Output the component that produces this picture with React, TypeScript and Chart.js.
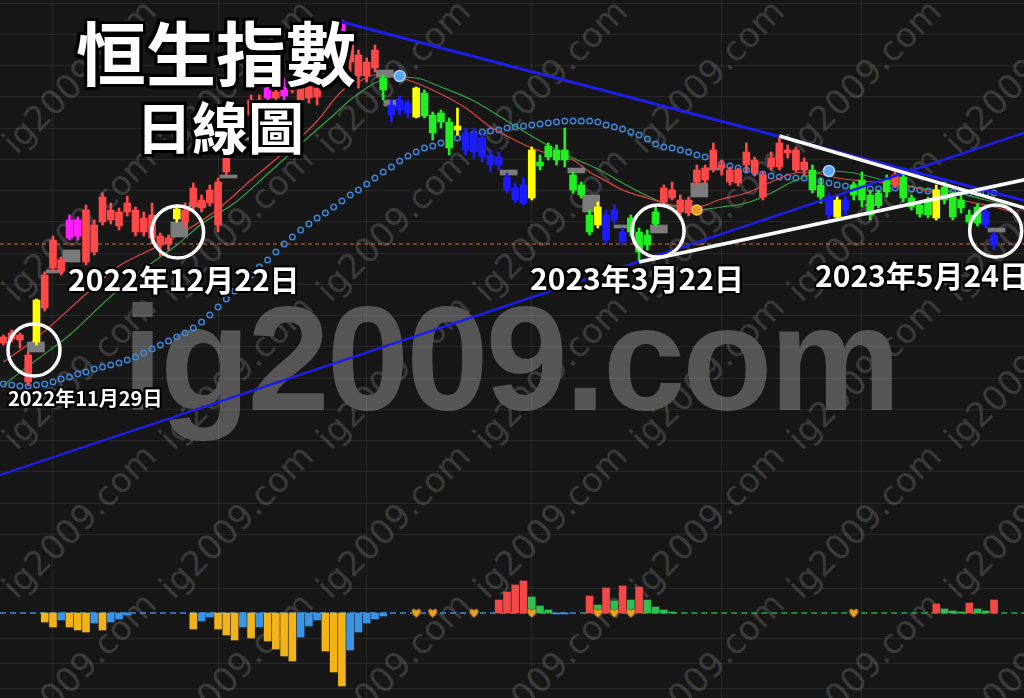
import React, { useEffect, useRef } from "react";
import { Chart, registerables } from "chart.js";

Chart.register(...registerables);

// Day index 0 = 2022-11-23 ... 120 = 2023-05-24 (HSI daily)
const candleOpen = [
  17562, 17626, 17610, 16938, 17578, 18122, 18762, 18714, 19242, 19274,
  18858, 19018, 19498, 19530, 19434, 19658, 19338, 19338, 19242, 19130,
  19146, 19546, 19498, 19770, 19722, 19802, 19450, 20298, 20810, 20922,
  21210, 21290, 21482, 21482, 21514, 21610, 21450, 21482, 21498, 21770,
  22170, 22538, 22058, 21834, 21834, 21962, 21802, 21370, 21450, 21402,
  21178, 21562, 21210, 21242, 21098, 20970, 20922, 20922, 20842, 20570,
  20538, 20218, 20042, 20090, 19882, 20458, 20714, 20650, 20650, 20250,
  20090, 19610, 19450, 19610, 19690, 19338, 19562, 19338, 19290, 19658,
  19818, 19882, 19658, 19642, 20138, 20170, 20362, 20362, 20138, 20122,
  20410, 20282, 19898, 20378, 20378, 20602, 20330, 20330, 20330, 20090,
  19898, 19578, 19850, 20090, 20170, 19930, 19962, 20170, 20090, 20218,
  19882, 19770, 19850, 19562, 20058, 19898, 19850, 19610, 19738, 19658,
  19290,
];
const candleHigh = [
  17690, 17770, 17722, 17418, 18266, 18698, 19274, 18938, 19610, 19578,
  19770, 19530, 19962, 19802, 19722, 19914, 19738, 19658, 19802, 19322,
  19290, 19770, 19802, 20122, 19930, 20090, 20202, 20874, 21162, 21322,
  21530, 21530, 21690, 21642, 21802, 21850, 21690, 21770, 21706, 22122,
  22650, 22730, 22410, 22250, 22122, 22330, 21850, 21450, 21514, 21450,
  21658, 21610, 21258, 21290, 21162, 21322, 21002, 21002, 20938, 20650,
  20618, 20282, 20122, 20202, 20698, 20570, 20762, 20730, 21002, 20298,
  20138, 19690, 19818, 19690, 19770, 19402, 19610, 19402, 19370, 19770,
  20090, 20138, 19930, 19898, 20410, 20410, 20762, 20490, 20378, 20362,
  20762, 20538, 20298, 20618, 20842, 20730, 20698, 20522, 20410, 20202,
  19962, 19930, 19914, 20138, 20298, 20010, 20010, 20250, 20298, 20298,
  19930, 19818, 19898, 20090, 20138, 19978, 19930, 19690, 19786, 19722,
  19338,
];
const candleLow = [
  17530, 17578, 17482, 16874, 17530, 18074, 18698, 18650, 19210, 19210,
  18810, 18970, 19450, 19466, 19370, 19594, 19274, 19274, 19146, 18954,
  19050, 19498, 19402, 19658, 19658, 19754, 19338, 20234, 20730, 20858,
  21162, 21242, 21450, 21450, 21450, 21562, 21402, 21402, 21370, 21690,
  22090, 22410, 21690, 21642, 21738, 21898, 21450, 21098, 21210, 21162,
  21162, 21162, 20810, 21002, 20570, 20890, 20570, 20522, 20458, 20298,
  20330, 19962, 19802, 19770, 19850, 20330, 20490, 20410, 20378, 19962,
  19882, 19290, 19402, 19146, 19482, 19130, 19274, 18858, 19050, 19434,
  19754, 19850, 19610, 19594, 20090, 20122, 20298, 20250, 20090, 20074,
  20298, 20234, 19850, 20330, 20330, 20522, 20298, 20250, 19962, 19802,
  19530, 19530, 19610, 19850, 19738, 19530, 19722, 19898, 20042, 19818,
  19690, 19578, 19562, 19530, 19786, 19530, 19642, 19450, 19434, 19402,
  19050,
];
const candleClose = [
  17658, 17722, 17690, 17370, 18250, 18650, 19210, 18890, 19530, 19530,
  19690, 19450, 19898, 19690, 19658, 19802, 19690, 19562, 19610, 19274,
  19242, 19706, 19690, 20042, 19850, 20010, 20138, 20794, 21050, 21242,
  21450, 21450, 21642, 21578, 21738, 21770, 21642, 21690, 21658, 22042,
  22570, 22666, 22330, 22170, 22058, 22250, 21610, 21210, 21290, 21242,
  21642, 21194, 20922, 21098, 20682, 21034, 20650, 20618, 20538, 20410,
  20410, 20010, 19850, 19802, 20650, 20394, 20538, 20490, 20490, 20010,
  19930, 19338, 19738, 19210, 19530, 19178, 19338, 19018, 19130, 19466,
  20042, 20010, 19850, 19850, 20330, 20362, 20650, 20410, 20330, 20330,
  20618, 20490, 20250, 20522, 20762, 20650, 20650, 20458, 20010, 19898,
  19610, 19850, 19690, 19930, 19850, 19610, 19770, 19978, 20250, 19882,
  19738, 19626, 19610, 20010, 19850, 19578, 19722, 19498, 19482, 19450,
  19130,
];
// R red, M magenta, Y yellow, G green, B blue
const candleTone = [
  "RRRR", "Y", "RRR", "MM", "RRRRRRRRRRR", "Y", "RRRRRRR", "M", "RR", "M", "R", "M",
  "RRRRRR", "M", "RRRR", "G", "BBB", "Y", "GGGG", "Y", "BBBBBBBB", "Y", "GGGGGGG", "Y",
  "BBB", "GGGG", "RRRRRRRRRRRRRRRRRR", "GG", "B", "Y", "B", "GGGGG", "R", "GGGG", "Y",
  "GGGGG", "BB",
].join("").split("");

// fast (red) and slow (green) averages, read at selected days
const maFastIdx = [0, 4, 10, 14, 18, 21, 26, 30, 34, 38, 41, 43, 45, 47, 49, 52, 56, 59, 61, 64, 67, 69, 71, 73, 75, 78, 81, 84, 87, 90, 93, 95, 97, 99, 101, 104, 108, 112, 116, 120, 123];
const maFastVal = [17258, 17642, 18346, 18794, 19066, 19274, 19706, 20170, 20618, 21114, 21594, 21738, 21850, 21834, 21770, 21610, 21322, 21018, 20874, 20682, 20554, 20490, 20298, 20154, 20010, 19882, 19770, 19738, 19866, 19962, 20138, 20250, 20298, 20266, 20202, 20154, 20106, 19994, 19850, 19738, 19626];
const maSlowIdx = [0, 4, 8, 12, 16, 19, 21, 24, 28, 32, 36, 40, 42, 45, 47, 50, 53, 57, 61, 65, 69, 72, 75, 78, 81, 84, 87, 90, 93, 95, 97, 100, 103, 107, 111, 115, 119, 123];
const maSlowVal = [16890, 17290, 17690, 18186, 18650, 18938, 19130, 19466, 19802, 20266, 20746, 21210, 21450, 21722, 21818, 21802, 21658, 21434, 21114, 20794, 20522, 20346, 20122, 19914, 19754, 19690, 19738, 19802, 19962, 20106, 20218, 20314, 20282, 20154, 20042, 19978, 19850, 19738];

// dotted trailing line, one dot per day
const sarDots = [
  16906, 16890, 16874, 16874, 16890, 16906, 16938, 16986, 17018, 17066,
  17098, 17146, 17178, 17210, 17242, 17290, 17338, 17402, 17466, 17530,
  17594, 17658, 17722, 17802, 17898, 18010, 18138, 18266, 18394, 18522,
  18650, 18778, 18890, 19018, 19146, 19258, 19370, 19466, 19562, 19642,
  19738, 19834, 19930, 20010, 20106, 20202, 20298, 20378, 20474, 20554,
  20618, 20682, 20714, 20762, 20810, 20842, 20874, 20906, 20938, 20954,
  20970, 21002, 21018, 21034, 21050, 21066, 21082, 21098, 21114, 21114,
  21114, 21114, 21098, 21050, 21018, 20986, 20938, 20890, 20826, 20746,
  20698, 20682, 20650, 20618, 20570, 20538, 20474, 20426, 20394, 20362,
  20330, 20298, 20266, 20234, 20218, 20218, 20202, 20202, 20186, 20154,
  20122, 20090, 20074, 20058, 20042, 20026, 20026, 20042, 20042, 20042,
  20026, 20010, 19994, 19978, 19978, 19978, 19978, 19962, 19962, 19962,
  19962,
];

// grey gap boxes
const boxIdx = [3.94, 6.24, 8.24, 21.3, 23.5, 27.26, 28.8, 46.2, 47.1, 61.2, 69.4, 71.2, 75.0, 79.4, 84.3, 86.2, 105.4, 120.3];
const boxLow = [17418, 18682, 18858, 19258, 19738, 20202, 20810, 21818, 21354, 20250, 20282, 19658, 19402, 19322, 19898, 20330, 19754, 19338];
const boxHigh = [17578, 18730, 19050, 19498, 19802, 20250, 20858, 21930, 21450, 20330, 20362, 19930, 19450, 19450, 20122, 20362, 19786, 19402];

// lower oscillator histogram
const oscIdx = [
  5, 6, 7, 8, 9, 10, 11, 12, 13, 14, 15,
  23, 24, 25, 26, 27, 28, 29, 30, 31, 32, 33, 34, 35, 36, 37, 38, 39, 40, 41, 42, 43, 44, 45, 46,
  60, 61, 62, 63, 64, 65, 66, 67, 68,
  71, 72, 73, 74, 75, 76, 77, 78, 79, 80, 81,
  113, 114, 115, 116, 117, 118, 119, 120,
];
const oscVal = [
  -9, -14, -7, -14, -17, -19, -10, -17, -9, -6, -2,
  -16, -8, -4, -16, -22, -27, -14, -25, -14, -28, -36, -43, -48, -24, -13, -7, -38, -59, -73, -37, -19, -10, -6, -3,
  13, 21, 28, 32, 16, 7, 3, -1, -1,
  17, 8, 25, 12, 27, 13, 26, 13, 6, 3, 1,
  9, 4, 2, 1, 10, 4, 2, 13,
];
const oscTone = ("YYBYYYBYBBB" + "YBBYYYBYBYYYYBBBYYYBBBBB" + "RRRRGGGBB" + "RGRGRGRGGGG" + "RGGGRGGR").split("");
const heartIdx = [50, 52, 57, 64, 72, 74, 76, 103];

// trend lines [dayIndex, price]
const upperBlue = [[41, 22698], [130, 19623]];
const lowerBlue = [[-5, 15248], [130, 21204]];
const upperWhite = [[94, 20874], [130, 19479]];
const lowerWhite = [[77, 18858], [130, 20352]];
const supportLevel = 19146;

const blueMarkIdx = [48, 100];
const blueMarkVal = [21834, 20314];
const orangeMarkIdx = [84];
const orangeMarkVal = [19690];
const ringIdx = [3.7, 21.1, 79.3, 120.2];
const ringVal = [17450, 19338, 19354, 19354];

const monthStartIdx = [6, 26, 44, 64, 87, 104];
const priceGrid = [14500, 15000, 15500, 16000, 16500, 17000, 17500, 18000, 18500, 19000, 19500, 20000, 20500, 21000, 21500, 22000, 22500, 23000];
const oscGrid = [-75, -50, -25, 25];

const X_MIN = -0.418;
const X_MAX = 123.63;
const P_MIN = 11882;
const P_MAX = 23050;
const O_MIN = -85;
const O_MAX = 613;

const toneColor: Record<string, string> = { R: "#ff4848", M: "#ff20ff", Y: "#ffff00", G: "#22ee22", B: "#1c1cff" };
const oscColor: Record<string, string> = { Y: "#f2b31a", B: "#3a94e6", R: "#f24848", G: "#2fbf50" };
const GRID = "rgba(255,255,255,0.07)";

function makeHeart() {
  const c = document.createElement("canvas");
  c.width = 11;
  c.height = 10;
  const g = c.getContext("2d")!;
  g.fillStyle = "#e8a02c";
  g.strokeStyle = "#8a5a12";
  g.lineWidth = 1;
  g.beginPath();
  g.moveTo(5.5, 9.5);
  g.bezierCurveTo(0.2, 6, 0.2, 1, 3, 1);
  g.bezierCurveTo(4.5, 1, 5.5, 2.3, 5.5, 3);
  g.bezierCurveTo(5.5, 2.3, 6.5, 1, 8, 1);
  g.bezierCurveTo(10.8, 1, 10.8, 6, 5.5, 9.5);
  g.closePath();
  g.fill();
  g.stroke();
  return c;
}

const pts = (arr: number[][]) => arr.map(([x, y]) => ({ x, y }));

export default function App() {
  const ref = useRef<HTMLCanvasElement>(null);

  useEffect(() => {
    const canvas = ref.current;
    if (!canvas) return;
    const heart = makeHeart();
    const days = candleOpen.map((_, i) => i);
    const colors = candleTone.map((t) => toneColor[t]);

    const lineDs = (data: any[], color: string, width: number, order: number, extra: any = {}) => ({
      type: "line",
      data,
      borderColor: color,
      borderWidth: width,
      pointRadius: 0,
      fill: false,
      order,
      yAxisID: "y",
      ...extra,
    });

    const chart = new Chart(canvas, {
      type: "bar",
      data: {
        datasets: [
          {
            type: "line",
            data: sarDots.map((v, i) => ({ x: i, y: v })),
            showLine: false,
            pointRadius: 2.8,
            pointBorderWidth: 1.4,
            pointBorderColor: "#3f86da",
            pointBackgroundColor: "rgba(0,0,0,0)",
            order: 90,
            yAxisID: "y",
          },
          lineDs(maFastIdx.map((x, j) => ({ x, y: maFastVal[j] })), "#e04444", 1.2, 80, { cubicInterpolationMode: "monotone" }),
          lineDs(maSlowIdx.map((x, j) => ({ x, y: maSlowVal[j] })), "#3aa040", 1.2, 80, { cubicInterpolationMode: "monotone" }),
          lineDs([{ x: X_MIN, y: supportLevel }, { x: X_MAX, y: supportLevel }], "#d9703a", 1, 85, { borderDash: [4, 3] }),
          lineDs([{ x: X_MIN, y: 0 }, { x: 70, y: 0 }], "#3d8fe0", 1.5, 85, { borderDash: [6, 4], yAxisID: "y2" }),
          lineDs([{ x: 70, y: 0 }, { x: X_MAX, y: 0 }], "#2aa84a", 1.5, 85, { borderDash: [6, 4], yAxisID: "y2" }),
          {
            type: "bar",
            yAxisID: "y2",
            data: oscIdx.map((x, j) => ({ x, y: oscVal[j] })),
            backgroundColor: oscTone.map((t) => oscColor[t]),
            barThickness: 7,
            grouped: false,
            order: 70,
          },
          {
            type: "line",
            yAxisID: "y2",
            data: heartIdx.map((x) => ({ x, y: 0 })),
            showLine: false,
            pointStyle: heart,
            order: 65,
          },
          {
            type: "bar",
            yAxisID: "y",
            data: boxIdx.map((x, j) => ({ x, y: [boxLow[j], boxHigh[j]] })),
            backgroundColor: "#7c7c7c",
            barThickness: 17,
            grouped: false,
            order: 60,
          },
          {
            type: "bar",
            yAxisID: "y",
            data: days.map((i) => ({ x: i, y: [candleLow[i], candleHigh[i]] })),
            backgroundColor: colors,
            barThickness: 2,
            grouped: false,
            order: 50,
          },
          {
            type: "bar",
            yAxisID: "y",
            data: days.map((i) => ({ x: i, y: [candleOpen[i], candleClose[i]] })),
            backgroundColor: colors,
            barThickness: 7,
            grouped: false,
            order: 40,
          },
          lineDs(pts(upperBlue), "#1e1ee6", 3, 30),
          lineDs(pts(lowerBlue), "#1e1ee6", 2.5, 30),
          lineDs(pts(upperWhite), "#ffffff", 3.5, 25),
          lineDs(pts(lowerWhite), "#ffffff", 3.5, 25),
          {
            type: "line",
            yAxisID: "y",
            data: blueMarkIdx.map((x, j) => ({ x, y: blueMarkVal[j] })),
            showLine: false,
            pointRadius: 5.5,
            pointBackgroundColor: "#5ea6ea",
            pointBorderColor: "#a6d4ff",
            pointBorderWidth: 1.5,
            order: 20,
          },
          {
            type: "line",
            yAxisID: "y",
            data: orangeMarkIdx.map((x, j) => ({ x, y: orangeMarkVal[j] })),
            showLine: false,
            pointRadius: 5,
            pointBackgroundColor: "#e69a22",
            pointBorderColor: "#f7c35a",
            pointBorderWidth: 1.5,
            order: 20,
          },
          {
            type: "line",
            yAxisID: "y",
            data: ringIdx.map((x, j) => ({ x, y: ringVal[j] })),
            showLine: false,
            pointRadius: 26,
            pointBackgroundColor: "rgba(0,0,0,0)",
            pointBorderColor: "#ffffff",
            pointBorderWidth: 3.5,
            order: 10,
          },
        ] as any,
      },
      options: {
        responsive: false,
        animation: false,
        events: [],
        layout: { padding: 0, autoPadding: false },
        plugins: { legend: { display: false }, tooltip: { enabled: false } },
        scales: {
          x: {
            type: "linear",
            min: X_MIN,
            max: X_MAX,
            offset: false,
            grid: { color: GRID, drawTicks: false, offset: false },
            border: { display: false },
            ticks: { display: false },
            afterBuildTicks: (s: any) => {
              s.ticks = monthStartIdx.map((v) => ({ value: v }));
            },
            afterFit: (s: any) => {
              s.height = 0;
            },
          },
          y: {
            type: "linear",
            min: P_MIN,
            max: P_MAX,
            position: "left",
            grid: { color: GRID, drawTicks: false },
            border: { display: false },
            ticks: { display: false },
            afterBuildTicks: (s: any) => {
              s.ticks = priceGrid.map((v) => ({ value: v }));
            },
            afterFit: (s: any) => {
              s.width = 0;
            },
          },
          y2: {
            type: "linear",
            min: O_MIN,
            max: O_MAX,
            position: "left",
            grid: { color: GRID, drawTicks: false },
            border: { display: false },
            ticks: { display: false },
            afterBuildTicks: (s: any) => {
              s.ticks = oscGrid.map((v) => ({ value: v }));
            },
            afterFit: (s: any) => {
              s.width = 0;
            },
          },
        } as any,
      },
    } as any);
    return () => chart.destroy();
  }, []);

  const cjk = '"Noto Sans CJK TC", "Noto Sans CJK SC", sans-serif';
  const outline = (w: number) =>
    [
      `0 0 ${w}px #000`,
      `${w}px 0 0 #000`,
      `-${w}px 0 0 #000`,
      `0 ${w}px 0 #000`,
      `0 -${w}px 0 #000`,
      `${w}px ${w}px 0 #000`,
      `-${w}px -${w}px 0 #000`,
      `${w}px -${w}px 0 #000`,
      `-${w}px ${w}px 0 #000`,
    ].join(", ");

  const wmCols = [0, 1, 2, 3, 4, 5, 6];
  const wmRows = [0, 1, 2, 3, 4];

  const label = (text: string, left: number, top: number, size: number, w = 2) => (
    <div
      key={text}
      style={{
        position: "absolute",
        left,
        top,
        fontFamily: cjk,
        fontWeight: 700,
        fontSize: size,
        lineHeight: 1,
        color: "#ffffff",
        whiteSpace: "nowrap",
        textShadow: outline(w),
      }}
    >
      {text}
    </div>
  );

  return (
    <div style={{ position: "fixed", left: 0, top: 0, width: 1024, height: 698, background: "#171717", overflow: "hidden" }}>
      <div style={{ position: "absolute", left: 0, top: 0, width: 1024, height: 698 }}>
        {wmCols.map((n) =>
          wmRows.map((m) => (
            <span
              key={`${n}-${m}`}
              style={{
                position: "absolute",
                left: 78.5 + 157 * n,
                top: 75.75 + 148.25 * m,
                transform: "translate(-50%, -50%) rotate(-45deg)",
                fontFamily: '"DejaVu Sans", sans-serif',
                fontSize: 34,
                lineHeight: 1,
                color: "#3a3a3a",
                whiteSpace: "nowrap",
              }}
            >
              ig2009.com
            </span>
          ))
        )}
        <div
          style={{
            position: "absolute",
            left: 122,
            top: 285,
            fontFamily: '"Liberation Sans", Arial, sans-serif',
            fontWeight: 700,
            fontSize: 148,
            letterSpacing: -3,
            lineHeight: 1,
            color: "#565656",
            whiteSpace: "nowrap",
          }}
        >
          ig2009.com
        </div>
      </div>
      <canvas ref={ref} width={1024} height={698} style={{ position: "absolute", left: 0, top: 0, width: 1024, height: 698 }} />
      <div style={{ position: "absolute", left: 0, top: 0, width: 1024, height: 698 }}>
        {label("恒生指數", 76, 16, 70, 3)}
        {label("日線圖", 136, 97, 56, 3)}
        {label("2022年12月22日", 68, 263, 30)}
        {label("2023年3月22日", 530, 262, 30)}
        {label("2023年5月24日", 815, 259, 30)}
        {label("2022年11月29日", 8, 388, 20)}
      </div>
    </div>
  );
}
